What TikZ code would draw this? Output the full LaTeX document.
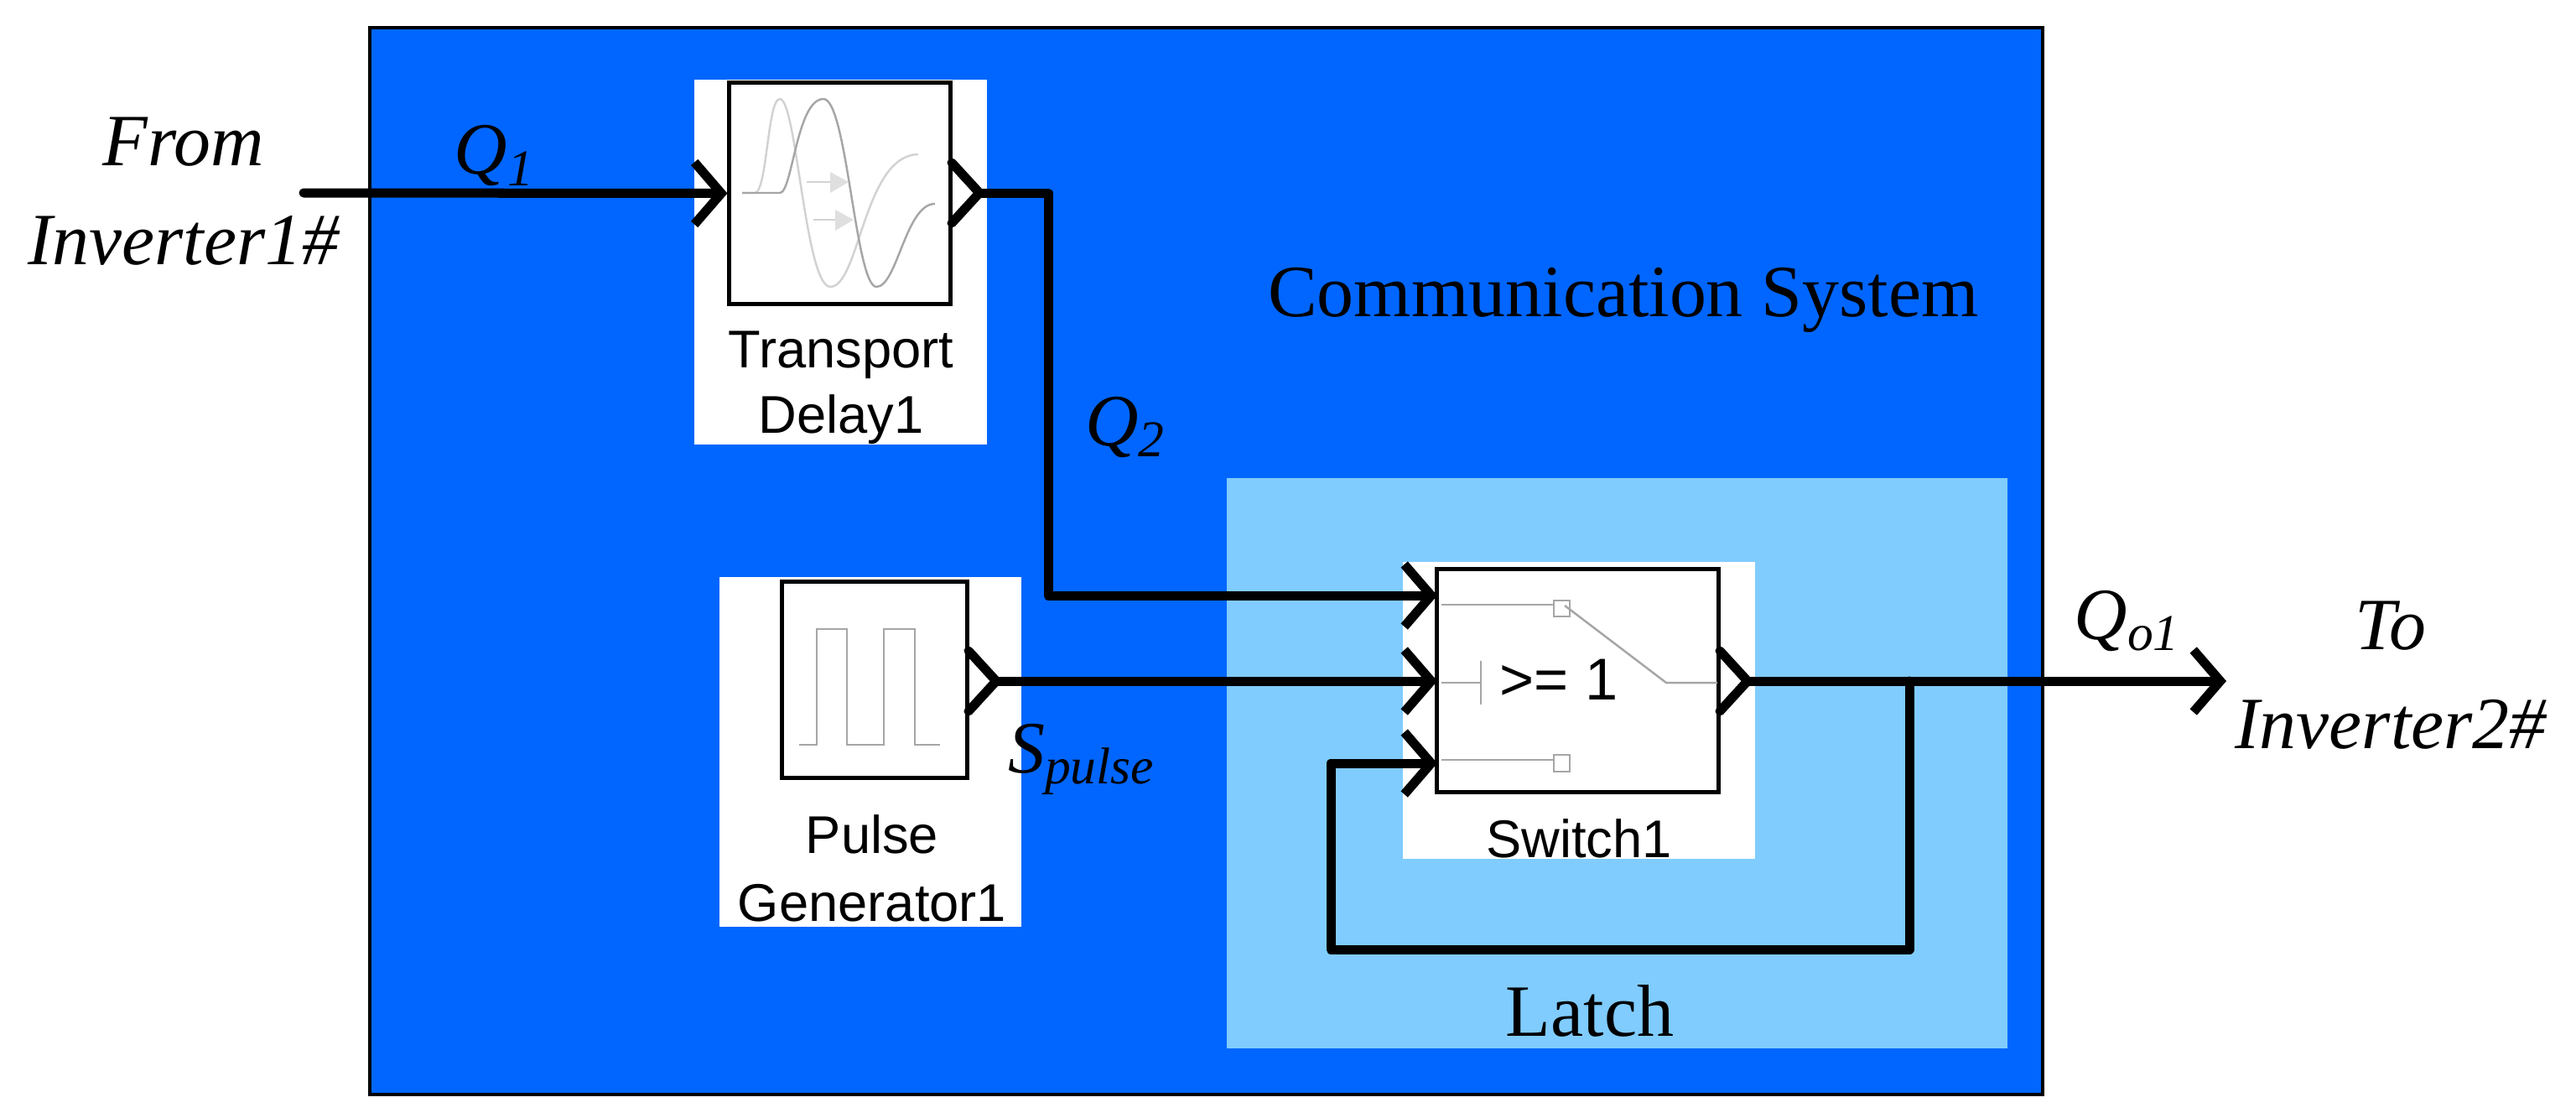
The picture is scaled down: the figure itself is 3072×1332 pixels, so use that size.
\documentclass[tikz,border=0pt]{standalone}
\usepackage{fontspec}
\setmainfont{Liberation Serif}
\newfontfamily\arialf{Liberation Sans}
\usetikzlibrary{arrows.meta,calc}
\definecolor{outerblue}{HTML}{0066FF}
\definecolor{latchblue}{HTML}{80CCFF}
\begin{document}
\begin{tikzpicture}[x=0.01cm,y=-0.01cm,
  blk/.style={draw=black,line width=1.4pt,fill=white,inner sep=0},
  wire/.style={line width=0.11cm,line cap=round,line join=round},
  arr/.style={wire,-{Straight Barb[length=0.32cm,width=0.74cm,line width=0.11cm]}},
  slab/.style={font=\arialf\fontsize{18}{20}\selectfont,inner sep=0},
  ilab/.style={font=\itshape\fontsize{25}{28}\selectfont,inner sep=0},
  icon/.style={gray!70,line width=0.7pt}]
\useasboundingbox (0,0) rectangle (3072,1332);
\fill[white] (0,0) rectangle (3072,1332);
% outer system
\fill[outerblue,draw=black,line width=1pt] (441,33) rectangle (2436,1305);
\fill[latchblue] (1463,570) rectangle (2394,1250);
% white panels
\fill[white] (828,95) rectangle (1177,530);
\fill[white] (858,688) rectangle (1218,1105);
\fill[white] (1673,670) rectangle (2093,1024);
% blocks
\node[blk,minimum width=2.63cm,minimum height=2.63cm] (td) at (1001.5,230.5) {};
\node[blk,minimum width=2.20cm,minimum height=2.33cm] (pg) at (1043,810.5) {};
\node[blk,minimum width=3.35cm,minimum height=2.65cm] (sw) at (1881.5,811.5) {};
% block labels
\node[slab] (tdl1) at (1003,423) {Transport};
\node[slab] (tdl2) at (1003,500) {Delay1};
\node[slab] (pgl1) at (1040,995) {Pulse};
\node[slab] (pgl2) at (1040,1077) {Generator1};
\node[slab] (swl) at (1883,1000) {Switch1};
% transport delay icon
\draw[icon,gray!35] (885,230) -- (900,230) .. controls (915,230) and (915,118) .. (930,118) .. controls (950,118) and (960,340) .. (990,342) .. controls (1025,342) and (1030,185) .. (1095,184);
\draw[icon] (885,230) -- (930,230) .. controls (945,230) and (950,118) .. (982,118) .. controls (1010,118) and (1020,340) .. (1045,342) .. controls (1070,342) and (1080,243) .. (1115,243);
\draw[icon,gray!35] (962,217) -- (990,217);
\fill[gray!25] (990,205) -- (1012,217) -- (990,230) -- cycle;
\draw[icon,gray!35] (970,262) -- (996,262);
\fill[gray!25] (996,250) -- (1018,262) -- (996,275) -- cycle;
% pulse icon
\draw[icon] (953,888) -- (974,888) -- (974,750) -- (1010,750) -- (1010,888) -- (1054,888) -- (1054,750) -- (1091,750) -- (1091,888) -- (1121,888);
% switch icon
\draw[icon] (1719,721) -- (1853,721);
\draw[icon] (1853,716) rectangle (1872,735);
\draw[icon] (1866,722) -- (1987,814) -- (2048,814);
\draw[icon] (1719,814) -- (1766,814);
\draw[icon] (1766,788) -- (1766,840);
\draw[icon] (1719,906) -- (1853,906);
\draw[icon] (1853,900) rectangle (1872,920);
\node[font=\arialf\fontsize{20}{22}\selectfont,inner sep=0] (ge) at (1859,810) {>=\ 1};
% output port chevrons
\draw[wire] (1135,194) -- (1168,230) -- (1135,266);
\draw[wire] (1155,776) -- (1188,812) -- (1155,848);
\draw[wire] (2051,776) -- (2084,812) -- (2051,848);
% coordinates
\coordinate (src) at (362,230);
\coordinate (tdo) at (1168,230);
\coordinate (pgo) at (1188,812);
\coordinate (swo) at (2084,812);
\coordinate (in1) at (1714,710);
\coordinate (in2) at (1714,812);
\coordinate (in3) at (1714,910);
\coordinate (br) at (2277,812);
\coordinate (dst) at (2655,812);
% wires
\draw[arr] (src) -- (td.west);
\draw[arr] (tdo) -- (1250,230) |- (in1);
\draw[arr] (pgo) -- (in2);
\draw[arr] (swo) -- (dst);
\draw[arr] (br) -- (2277,1132) -| (1587,910) -- (in3);
% labels
\node[ilab,align=center] (from) at (219,228) {From\\[0.2cm]Inverter1\#};
\node[ilab,align=center] (to) at (2851,805) {To\\[0.2cm]Inverter2\#};
\node[ilab] (q1) at (590,186) {Q\textsubscript{1}};
\node[ilab] (q2) at (1342,509) {Q\textsubscript{2}};
\node[ilab] (sp) at (1290,905) {S\textsubscript{pulse}};
\node[ilab] (qo) at (2537,740) {Q\textsubscript{o1}};
\node[font=\fontsize{25}{28}\selectfont,inner sep=0] (cs) at (1936,358) {Communication System};
\node[font=\fontsize{25}{28}\selectfont,inner sep=0] (lt) at (1896,1205) {Latch};
\end{tikzpicture}
\end{document}
